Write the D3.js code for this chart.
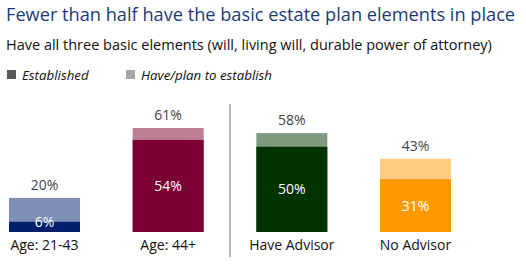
<!DOCTYPE html>
<html>
<head>
<meta charset="utf-8">
<script src="https://cdn.jsdelivr.net/npm/d3@7"></script>
<style>
  body { margin: 0; background: #fff; }
  text { font-family: "Open Sans", "Noto Sans", sans-serif; }
</style>
</head>
<body>
<div id="chart"></div>
<script>
// DATA
var categories = ["Age: 21-43", "Age: 44+", "Have Advisor", "No Advisor"];
var established = [6, 54, 50, 31];
var havePlan = [20, 61, 58, 43];
var darkColors = ["#00206b", "#7b0034", "#003300", "#ff9900"];
var lightColors = ["#7f8fb5", "#bd7d94", "#7f9a7f", "#ffcc80"];
var legendLabels = ["Established", "Have/plan to establish"];

// SIZING
var width = 526, height = 265;
var svg = d3.select("#chart").append("svg")
    .attr("width", width).attr("height", height);

// title + subtitle
svg.append("text").attr("x", 6).attr("y", 21)
    .style("font-size", "18.2px").style("fill", "#1b3a78")
    .text("Fewer than half have the basic estate plan elements in place");
svg.append("text").attr("x", 6).attr("y", 50)
    .style("font-size", "14.5px").style("fill", "#111")
    .text("Have all three basic elements (will, living will, durable power of attorney)");

// legend
var legendX = [7, 126];
var legendFill = ["#595959", "#a6a6a6"];
legendLabels.forEach(function (d, i) {
    svg.append("rect").attr("x", legendX[i]).attr("y", 70)
        .attr("width", 9).attr("height", 9).attr("fill", legendFill[i]);
    svg.append("text").attr("x", legendX[i] + 15).attr("y", 80)
        .style("font-size", "13.3px").style("font-style", "italic").style("fill", "#111")
        .text(d);
});

// scales
var x = d3.scaleBand().domain(categories).range([9, 451]).paddingInner(0.426).paddingOuter(0);
var y = d3.scaleLinear().domain([0, 100]).range([232, 61.5]);

var g = svg.append("g");

// light (have/plan) bars
g.selectAll(".light").data(categories).enter().append("rect")
    .attr("x", function (d) { return x(d); })
    .attr("width", x.bandwidth())
    .attr("y", function (d, i) { return y(havePlan[i]); })
    .attr("height", function (d, i) { return y(0) - y(havePlan[i]); })
    .attr("fill", function (d, i) { return lightColors[i]; });

// dark (established) bars
g.selectAll(".dark").data(categories).enter().append("rect")
    .attr("x", function (d) { return x(d); })
    .attr("width", x.bandwidth())
    .attr("y", function (d, i) { return y(established[i]); })
    .attr("height", function (d, i) { return y(0) - y(established[i]); })
    .attr("fill", function (d, i) { return darkColors[i]; });

// top labels
g.selectAll(".top").data(categories).enter().append("text")
    .attr("x", function (d) { return x(d) + x.bandwidth() / 2; })
    .attr("y", function (d, i) { return y(havePlan[i]) - 8; })
    .attr("text-anchor", "middle")
    .style("font-size", "14px").style("fill", "#444")
    .text(function (d, i) { return havePlan[i] + "%"; });

// inner labels
g.selectAll(".inner").data(categories).enter().append("text")
    .attr("x", function (d) { return x(d) + x.bandwidth() / 2; })
    .attr("y", function (d, i) {
        var mid = (y(established[i]) + y(0)) / 2;
        return Math.min(mid, y(0) - 10) + 5;
    })
    .attr("text-anchor", "middle")
    .style("font-size", "14px").style("fill", "#fff")
    .text(function (d, i) { return established[i] + "%"; });

// category labels
g.selectAll(".cat").data(categories).enter().append("text")
    .attr("x", function (d) { return x(d) + x.bandwidth() / 2; })
    .attr("y", 250)
    .attr("text-anchor", "middle")
    .style("font-size", "14px").style("fill", "#111")
    .text(function (d) { return d; });

// divider between age and advisor groups
var divX = (x(categories[1]) + x(categories[2]) + x.bandwidth()) / 2;
svg.append("line").attr("x1", divX).attr("x2", divX)
    .attr("y1", 104).attr("y2", 257)
    .attr("stroke", "#a0a0a0").attr("stroke-width", 1.5);
</script>
</body>
</html>
